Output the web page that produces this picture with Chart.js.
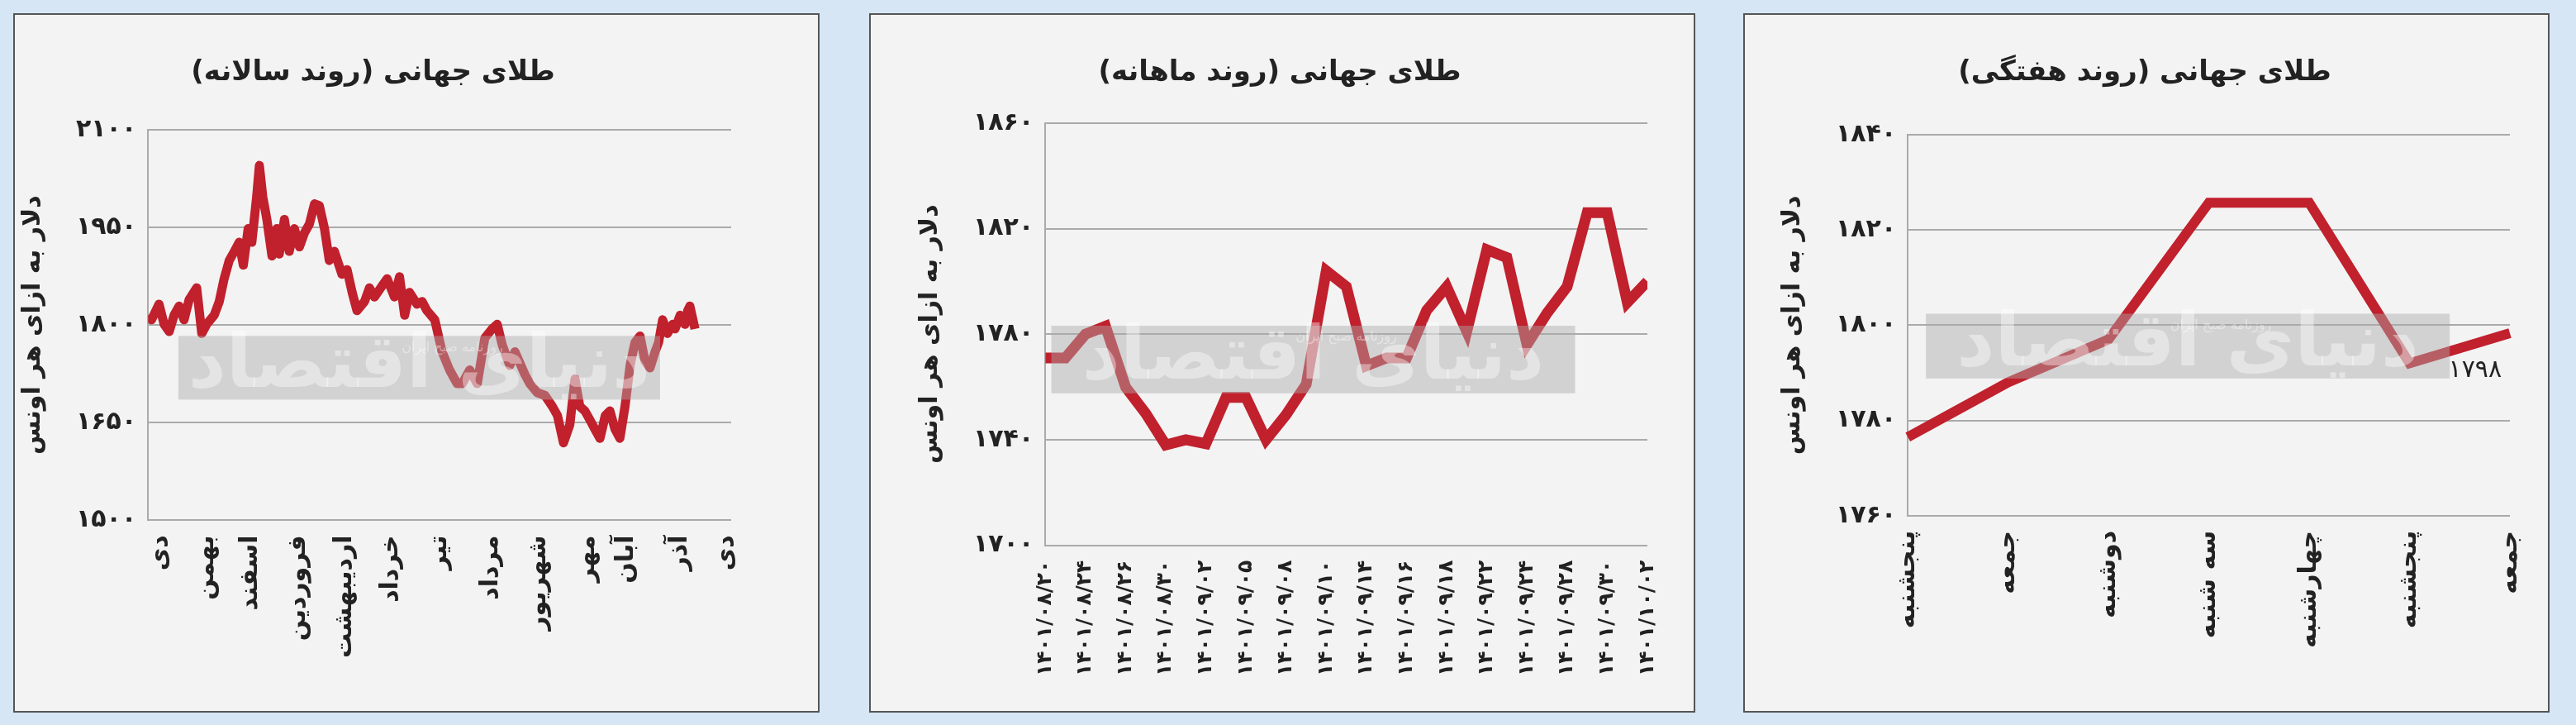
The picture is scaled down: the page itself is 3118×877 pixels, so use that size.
<!DOCTYPE html>
<html>
<head>
<meta charset="utf-8">
<script src="https://cdn.jsdelivr.net/npm/chart.js@4.4.0/dist/chart.umd.min.js"></script>
<style>
  body { margin: 0; width: 3118px; height: 877px; background: #d6e6f5; position: relative; overflow: hidden; }
  .panel { position: absolute; top: 16px; height: 846px; background: #f3f3f3; border: 2px solid #555; box-sizing: border-box; }
  .panel canvas { width: 100% !important; height: 100% !important; }
</style>
</head>
<body>
<div class="panel" style="left:16px;width:976px"><canvas id="yearChart"></canvas></div>
<div class="panel" style="left:1052px;width:1000px"><canvas id="monthChart"></canvas></div>
<div class="panel" style="left:2110px;width:976px"><canvas id="weekChart"></canvas></div>
<script>
// ---- data ----
// yearly trend: position along year (0..240) and price
const yearX = [0,1.4,4.5,6.6,8.7,10.7,12.8,14.8,16.9,20,22.1,24.1,27.2,29.3,31.3,33.4,35.5,37.5,39.2,41.2,42.7,44.7,45.8,47.2,48.9,51,53,54,56.1,58.1,60.2,62.3,64.3,66.4,68.5,70.5,72.6,74.6,76.7,79.8,81.9,84,86,89.1,91.1,93.2,96.3,98.4,101.4,103.5,105.6,107.6,110.7,112.8,114.8,118,121,124.1,127.2,129.3,132.4,135.5,138.6,141.6,143.7,145.8,148.9,151,155.1,157.1,160.2,163.3,166.4,168.5,171,173.6,175.7,177.7,179.8,181.9,183.9,186,188.2,190.1,192.2,194.2,196.3,198.4,200.4,202.5,204.5,206.6,208.7,210.1,211.8,213.8,215.9,216.9,219,221,222.1,223,225.1];
const yearY = [1815,1808,1832,1801,1790,1815,1829,1808,1839,1857,1787,1801,1815,1836,1871,1899,1913,1927,1892,1948,1927,1997,2045,1997,1962,1906,1948,1909,1962,1913,1948,1920,1941,1955,1986,1983,1948,1899,1913,1878,1885,1850,1822,1836,1857,1843,1860,1871,1843,1874,1815,1850,1832,1836,1822,1808,1759,1731,1710,1710,1731,1710,1780,1794,1801,1769,1738,1759,1724,1710,1696,1692,1675,1661,1619,1647,1717,1675,1668,1654,1640,1626,1661,1668,1640,1626,1675,1738,1773,1783,1745,1734,1759,1773,1808,1787,1801,1794,1815,1801,1822,1829,1794,1801];
const yearMonths = ['دی','بهمن','اسفند','فروردین','اردیبهشت','خرداد','تیر','مرداد','شهریور','مهر','آبان','آذر','دی'];
const yearMonthPos = [5,24,42,62,81,100,120,141,161,181,197,219,238];
const yearTicks = [1500,1650,1800,1950,2100];

// monthly trend
const monthDates = ['۱۴۰۱/۰۸/۲۰','۱۴۰۱/۰۸/۲۴','۱۴۰۱/۰۸/۲۶','۱۴۰۱/۰۸/۳۰','۱۴۰۱/۰۹/۰۲','۱۴۰۱/۰۹/۰۵','۱۴۰۱/۰۹/۰۸','۱۴۰۱/۰۹/۱۰','۱۴۰۱/۰۹/۱۴','۱۴۰۱/۰۹/۱۶','۱۴۰۱/۰۹/۱۸','۱۴۰۱/۰۹/۲۲','۱۴۰۱/۰۹/۲۴','۱۴۰۱/۰۹/۲۸','۱۴۰۱/۰۹/۳۰','۱۴۰۱/۱۰/۰۲'];
const monthValues = [1771,1771,1780,1783,1760,1750,1738,1740,1738.5,1756,1756,1740,1749.5,1761,1804,1798,1768,1771,1771,1789,1798,1781,1812,1809,1776,1788,1798,1826,1826,1792,1800];
const monthTicks = [1700,1740,1780,1820,1860];

// weekly trend
const weekDays = ['پنجشنبه','جمعه','دوشنبه','سه شنبه','چهارشنبه','پنجشنبه','جمعه'];
const weekValues = [1776.5,1788,1797,1825.7,1825.7,1792,1798.3];
const weekTicks = [1760,1780,1800,1820,1840];
const weekLastLabel = '۱۷۹۸';

// ---- helpers ----
const faDigits = '۰۱۲۳۴۵۶۷۸۹';
const toFa = (n) => String(n).replace(/\d/g, d => faDigits[d]);
const FONT = 'DejaVu Sans';
const RED = '#c1202d';

// watermark band drawn over the line
const watermark = {
    id: 'watermark',
    afterDatasetsDraw(chart, args, opts) {
        const a = chart.chartArea, c = chart.ctx;
        const x0 = a.left + a.width * opts.x0, x1 = a.left + a.width * opts.x1;
        const y0 = a.top + a.height * opts.y0, y1 = a.top + a.height * opts.y1;
        c.save();
        c.fillStyle = 'rgba(170,170,170,0.45)';
        c.fillRect(x0, y0, x1 - x0, y1 - y0);
        c.fillStyle = 'rgba(255,255,255,0.4)';
        c.font = 'bold 90px ' + FONT;
        c.textAlign = 'center';
        c.textBaseline = 'middle';
        c.fillText('دنیای اقتصاد', (x0 + x1) / 2, (y0 + y1) / 2);
        c.font = '16px ' + FONT;
        c.fillText('روزنامه صبح ایران', (x0 + x1) / 2 + 40, y0 + 14);
        c.restore();
    }
};

// value label at end of weekly line
const endLabel = {
    id: 'endLabel',
    afterDatasetsDraw(chart, args, opts) {
        if (!opts.text) return;
        const meta = chart.getDatasetMeta(0);
        const p = meta.data[meta.data.length - 1];
        const c = chart.ctx;
        c.save();
        c.fillStyle = '#222';
        c.font = '30px ' + FONT;
        c.textAlign = 'right';
        c.textBaseline = 'top';
        c.fillText(opts.text, p.x - 10, p.y + 30);
        c.restore();
    }
};

function yAxis(ticks) {
    return {
        min: ticks[0], max: ticks[ticks.length - 1],
        afterBuildTicks: (ax) => { ax.ticks = ticks.map(v => ({ value: v })); },
        ticks: { color: '#222', font: { family: FONT, size: 30, weight: 'bold' }, padding: 14, callback: (v) => toFa(v) },
        grid: { color: '#aaa', lineWidth: 2, drawTicks: false },
        border: { color: '#aaa', width: 2 },
        title: { display: true, text: 'دلار به ازای هر اونس', color: '#222', font: { family: FONT, size: 30, weight: 'bold' }, padding: { bottom: 20 } }
    };
}

function baseOptions(title, wm, pad, titleGap) {
    return {
        responsive: true,
        maintainAspectRatio: false,
        animation: false,
        layout: { padding: pad },
        plugins: {
            legend: { display: false },
            tooltip: { enabled: false },
            title: { display: true, text: title, color: '#222', font: { family: FONT, size: 34, weight: 'bold' }, padding: { top: 0, bottom: titleGap } },
            watermark: wm
        },
        elements: { point: { radius: 0 } }
    };
}

const xTickFont = { family: FONT, size: 30, weight: 'bold' };

// ---- yearly ----
const yOpts = baseOptions('طلای جهانی (روند سالانه)', { x0: 0.052, x1: 0.878, y0: 0.528, y1: 0.691 }, { top: 50, right: 105, left: 0, bottom: 54 }, 48);
yOpts.scales = {
    x: {
        type: 'linear', min: 0, max: 240,
        afterBuildTicks: (ax) => { ax.ticks = yearMonthPos.map(v => ({ value: v })); },
        ticks: { color: '#222', font: xTickFont, maxRotation: 90, minRotation: 90, padding: 10, callback: (v, i) => yearMonths[i] },
        grid: { display: false },
        border: { display: false }
    },
    y: yAxis(yearTicks)
};
new Chart(document.getElementById('yearChart'), {
    type: 'line',
    data: { datasets: [{ data: yearX.map((x, i) => ({ x: x, y: yearY[i] })), borderColor: RED, borderWidth: 11, tension: 0, borderJoinStyle: 'round' }] },
    options: yOpts,
    plugins: [watermark]
});

// ---- monthly ----
const mOpts = baseOptions('طلای جهانی (روند ماهانه)', { x0: 0.01, x1: 0.88, y0: 0.48, y1: 0.64 }, { top: 50, right: 56, left: 50, bottom: 32 }, 40);
mOpts.scales = {
    x: {
        type: 'linear', min: 0, max: monthValues.length - 1,
        afterBuildTicks: (ax) => { ax.ticks = monthDates.map((d, i) => ({ value: i * 2 })); },
        ticks: { color: '#222', font: { family: FONT, size: 25, weight: 'bold' }, maxRotation: 90, minRotation: 90, padding: 10, callback: (v, i) => monthDates[i] },
        grid: { display: false },
        border: { display: false }
    },
    y: yAxis(monthTicks)
};
new Chart(document.getElementById('monthChart'), {
    type: 'line',
    data: { datasets: [{ data: monthValues.map((v, i) => ({ x: i, y: v })), borderColor: RED, borderWidth: 13, tension: 0, borderJoinStyle: 'miter' }] },
    options: mOpts,
    plugins: [watermark]
});

// ---- weekly ----
const wOpts = baseOptions('طلای جهانی (روند هفتگی)', { x0: 0.03, x1: 0.90, y0: 0.47, y1: 0.64 }, { top: 50, right: 40, left: 36, bottom: 66 }, 54);
wOpts.plugins.endLabel = { text: weekLastLabel };
wOpts.scales = {
    x: {
        type: 'category', offset: false,
        ticks: { color: '#222', font: xTickFont, maxRotation: 90, minRotation: 90, padding: 10 },
        grid: { display: false },
        border: { display: false }
    },
    y: yAxis(weekTicks)
};
new Chart(document.getElementById('weekChart'), {
    type: 'line',
    data: { labels: weekDays, datasets: [{ data: weekValues, borderColor: RED, borderWidth: 12, tension: 0, borderJoinStyle: 'miter' }] },
    options: wOpts,
    plugins: [watermark, endLabel]
});
</script>
</body>
</html>
